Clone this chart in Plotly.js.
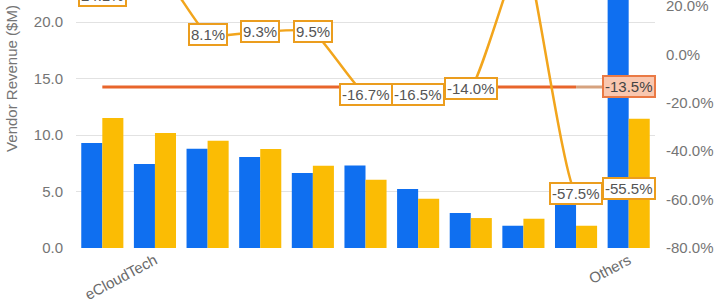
<!DOCTYPE html>
<html>
<head>
<meta charset="utf-8">
<script src="https://cdn.plot.ly/plotly-3.0.1.min.js"></script>
<style>
  html, body { margin: 0; padding: 0; background: #ffffff; overflow: hidden; width: 720px; height: 306px; }
  #chart { position: absolute; left: 0; top: -91px; width: 720px; height: 397px; }
</style>
</head>
<body>
<div id="chart"></div>
<script>
// Category slots (1..11); only two of them carry a visible label
const categories = [1, 2, 3, 4, 5, 6, 7, 8, 9, 10, 11];
const tickPositions = [2, 11];
const tickLabels = ['eCloudTech', 'Others'];

// Vendor revenue ($M), two periods
const revenuePrior   = [9.3, 7.43, 8.79, 8.05, 6.64, 7.31, 5.22, 3.10, 1.97, 4.64, 25.7];
const revenueCurrent = [11.5, 10.18, 9.50, 8.76, 7.28, 6.04, 4.36, 2.65, 2.59, 1.97, 11.44];

// Growth (%) per vendor and the overall average
const growthPct = [24.1, 37.0, 8.1, 9.3, 9.5, -16.7, -16.5, -14.0, 44.0, -57.5, -55.5];
const averageGrowth = -13.5;

// Axis ticks
const leftTicks = [0, 5, 10, 15, 20, 25, 30];
const rightTicks = [-80, -60, -40, -20, 0, 20, 40, 60];

const BLUE = '#0f6ff0';
const YELLOW = '#fbbc04';
const ORANGE = '#f2a51c';
const AVG = '#e8652b';
const AXIS_TEXT = '#757575';
const FONT = 'Liberation Sans, Arial, sans-serif';
const FS = 15;

const avgLine = categories.map(() => averageGrowth);
const lastTwo = categories.slice(-2);

const traces = [
  { type: 'bar', x: categories, y: revenuePrior, marker: { color: BLUE }, hoverinfo: 'skip' },
  { type: 'bar', x: categories, y: revenueCurrent, marker: { color: YELLOW }, hoverinfo: 'skip' },
  { type: 'scatter', mode: 'lines', x: categories.slice(0, -1), y: avgLine.slice(0, -1), yaxis: 'y2',
    line: { color: AVG, width: 3 }, hoverinfo: 'skip' },
  { type: 'scatter', mode: 'lines', x: lastTwo, y: avgLine.slice(-2), yaxis: 'y2',
    line: { color: '#d6a27e', width: 3 }, hoverinfo: 'skip' },
  { type: 'scatter', mode: 'lines', x: categories, y: growthPct, yaxis: 'y2',
    line: { color: ORANGE, width: 2.5, shape: 'spline', smoothing: 0.4 }, hoverinfo: 'skip' }
];

const fmt = v => v.toFixed(1);

const annotations = growthPct.map((v, i) => ({
  x: categories[i], y: v, xref: 'x', yref: 'y2', text: fmt(v) + '%', showarrow: false,
  bgcolor: '#ffffff', bordercolor: '#eb9d1e', borderwidth: 2, borderpad: 1,
  font: { family: FONT, size: FS, color: '#555555' }
}));
annotations.push({
  x: categories[categories.length - 1], y: averageGrowth, xref: 'x', yref: 'y2',
  text: fmt(averageGrowth) + '%', showarrow: false,
  bgcolor: '#f9c7af', bordercolor: '#ea7a45', borderwidth: 2, borderpad: 1,
  font: { family: FONT, size: FS, color: '#444444' }
});

const layout = {
  width: 720, height: 397,
  margin: { l: 76, r: 65, t: 0, b: 58 },
  paper_bgcolor: '#ffffff', plot_bgcolor: '#ffffff',
  showlegend: false,
  barmode: 'group', bargap: 0.2, bargroupgap: 0,
  font: { family: FONT, size: FS, color: AXIS_TEXT },
  xaxis: {
    range: [0.5, 11.5], tickmode: 'array', tickvals: tickPositions, ticktext: tickLabels,
    tickangle: -28, showgrid: false, zeroline: false, showline: false, ticks: '',
    tickfont: { family: FONT, size: FS, color: '#6a6a6a' }
  },
  yaxis: {
    range: [0, 30], tickmode: 'array', tickvals: leftTicks, ticktext: leftTicks.map(fmt),
    showgrid: true, gridcolor: '#e2e2e2', gridwidth: 1, zeroline: false, showline: false,
    ticks: '', ticklabelstandoff: 12,
    tickfont: { family: FONT, size: FS, color: AXIS_TEXT },
    title: { text: 'Vendor Revenue ($M)', standoff: 12, font: { family: FONT, size: FS, color: AXIS_TEXT } }
  },
  yaxis2: {
    overlaying: 'y', side: 'right', range: [-80, 60], tickmode: 'array',
    tickvals: rightTicks, ticktext: rightTicks.map(v => fmt(v) + '%'),
    showgrid: false, zeroline: false, showline: false, ticks: '', ticklabelstandoff: 10,
    tickfont: { family: FONT, size: FS, color: AXIS_TEXT }
  },
  annotations: annotations
};

Plotly.newPlot('chart', traces, layout, { staticPlot: true, displayModeBar: false });
</script>
</body>
</html>
